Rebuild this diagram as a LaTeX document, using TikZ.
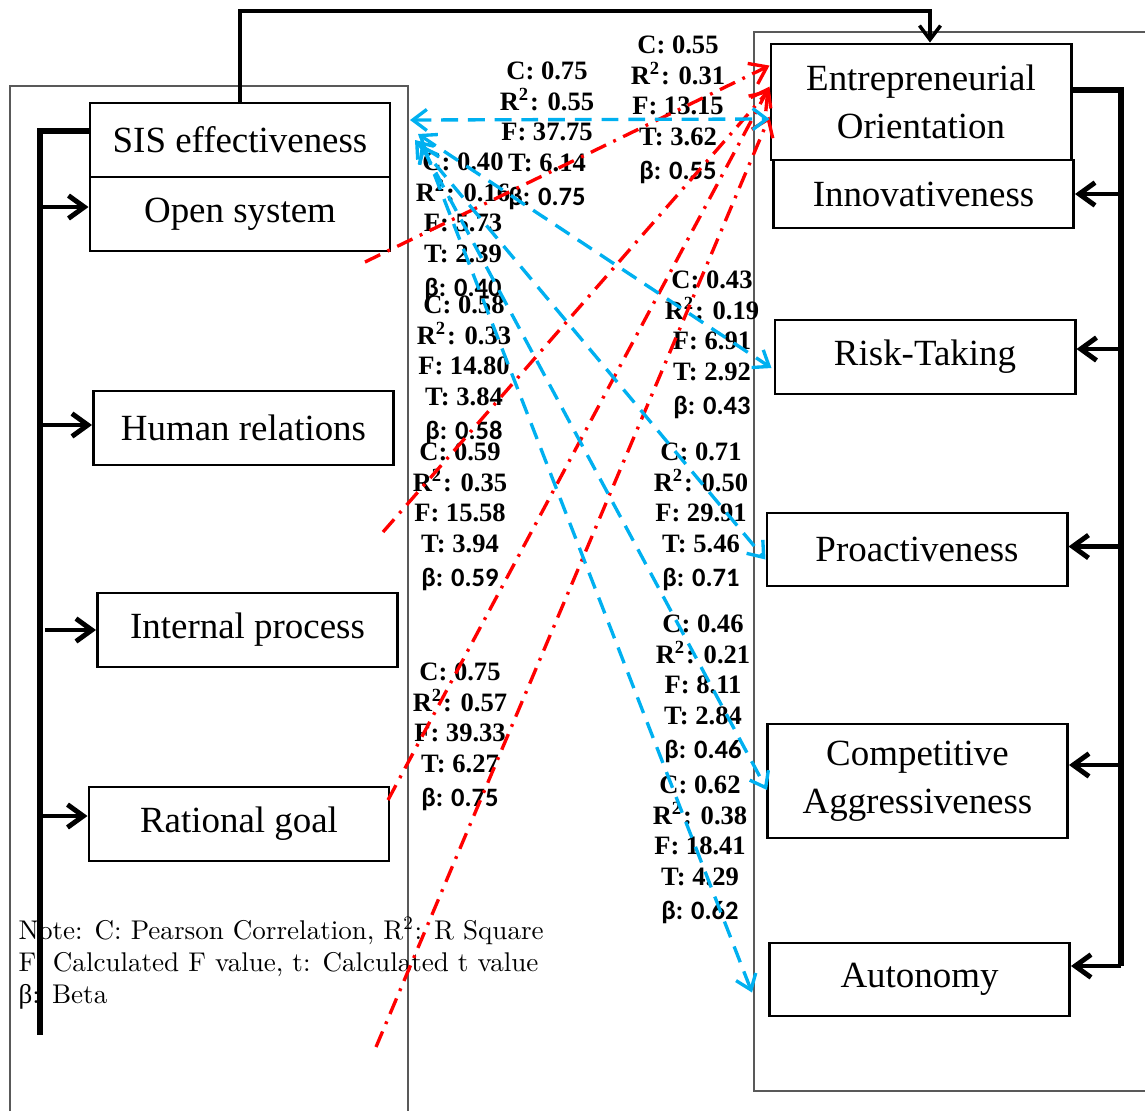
\documentclass[tikz,border=0pt]{standalone}
\usepackage{fontspec}
\newfontfamily\boxfont{Liberation Serif}
\newfontfamily\betafont{Carlito}
\newfontfamily\notefont{lmroman10-regular}[Extension=.otf]
\usetikzlibrary{calc,arrows.meta}
\definecolor{linkblue}{RGB}{0,176,240}
\definecolor{linkred}{RGB}{255,0,0}
\tikzset{
  box/.style={draw, line width=0.8pt, minimum width=3cm, minimum height=0.74cm, inner sep=0pt, align=center, font=\boxfont\fontsize{10.5}{13.6}\selectfont},
  frame/.style={draw=black!65, line width=0.45pt},
  bar/.style={line width=1.6pt},
  feed/.style={line width=1.4pt, -{Straight Barb[length=4.5pt,width=6.5pt]}},
  redlink/.style={linkred, line width=0.95pt, dash pattern=on 4.8pt off 2.3pt on 0.8pt off 2.3pt, -{Straight Barb[length=4.5pt,width=6.5pt]}},
  bluelink/.style={linkblue, line width=0.95pt, dash pattern=on 4.8pt off 2.8pt, {Straight Barb[length=4pt,width=6pt]}-{Straight Barb[length=4pt,width=6pt]}},
  stat/.style={inner sep=0pt, align=center, font=\boxfont\bfseries\fontsize{7.55}{8.68}\selectfont},
}

\begin{document}
\begin{tikzpicture}[x=0.01cm, y=-0.01cm]
\useasboundingbox (0,0) rectangle (1145,1111);

%RAHMEN
\draw[frame] (10,1111) -- (10,86) -- (408,86) -- (408,1111);
\draw[frame] (1145,32) -- (754,32) -- (754,1091) -- (1145,1091);

%WERTE (C, R2, F, T, BETA)
\node[stat] (sA) at (547,136) {C: 0.75\\R\textsuperscript{2}: 0.55\\F: 37.75\\T: 6.14\\[1pt]{\betafont β: 0.75}};
\node[stat] (sB) at (678,110) {C: 0.55\\R\textsuperscript{2}: 0.31\\F: 13.15\\T: 3.62\\[1pt]{\betafont β: 0.55}};
\node[stat] (sC) at (463,227) {C: 0.40\\R\textsuperscript{2}: 0.16\\F: 5.73\\T: 2.39\\[1pt]{\betafont β: 0.40}};
\node[stat] (sD) at (464,370) {C: 0.58\\R\textsuperscript{2}: 0.33\\F: 14.80\\T: 3.84\\[1pt]{\betafont β: 0.58}};
\node[stat] (sE) at (460,517) {C: 0.59\\R\textsuperscript{2}: 0.35\\F: 15.58\\T: 3.94\\[1pt]{\betafont β: 0.59}};
\node[stat] (sJ) at (460,737) {C: 0.75\\R\textsuperscript{2}: 0.57\\F: 39.33\\T: 6.27\\[1pt]{\betafont β: 0.75}};
\node[stat] (sF) at (712,345) {C: 0.43\\R\textsuperscript{2}: 0.19\\F: 6.91\\T: 2.92\\[1pt]{\betafont β: 0.43}};
\node[stat] (sG) at (701,517) {C: 0.71\\R\textsuperscript{2}: 0.50\\F: 29.91\\T: 5.46\\[1pt]{\betafont β: 0.71}};
\node[stat] (sH) at (703,689) {C: 0.46\\R\textsuperscript{2}: 0.21\\F: 8.11\\T: 2.84\\[1pt]{\betafont β: 0.46}};
\node[stat] (sI) at (700,850) {C: 0.62\\R\textsuperscript{2}: 0.38\\F: 18.41\\T: 4.29\\[1pt]{\betafont β: 0.62}};

%ANMERKUNG
\node[anchor=north west, align=left, inner sep=0pt, font=\notefont\fontsize{7.7}{9.1}\selectfont] (note) at (18,916)
  {Note: C: Pearson Correlation, R\textsuperscript{2}: R Square\\F: Calculated F value, t: Calculated t value\\{\boxfont β}: Beta};

%LINKE SPALTE
\node[box] (sis) at (240,140) {SIS effectiveness};
\node[box] (open) at (240,214) {Open system};
\node[box] (human) at (243.5,428) {Human relations};
\node[box] (internal) at (247.5,630) {Internal process};
\node[box] (rational) at (239,824) {Rational goal};

%RECHTE SPALTE
\node[box, minimum height=1.16cm] (eo) at (921,102) {Entrepreneurial\\Orientation};
\node[box, minimum height=0.68cm] (innov) at (923.5,194) {Innovativeness};
\node[box] (risk) at (925,357) {Risk-Taking};
\node[box, minimum height=0.73cm] (proact) at (917,549.5) {Proactiveness};
\node[box, minimum height=1.14cm] (comp) at (917.5,781) {Competitive\\Aggressiveness};
\node[box, minimum height=0.73cm] (auton) at (919.5,979.5) {Autonomy};

%VERBINDUNG OBEN
\coordinate (top) at (930,11);
\draw[line width=1pt, -{Straight Barb[length=4pt,width=6pt]}] (sis.north) |- (top) -- (eo.north -| top);

%BALKEN LINKS
\coordinate (lbar) at (40,131);
\coordinate (lbarend) at (40,1035);
\draw[bar] (sis.west |- lbar) -- (lbar) -- (lbarend);
\draw[feed] ($(lbar |- open.west)+(0,-7)$) -- ($(open.west)+(0,-7)$);
\draw[feed] ($(lbar |- human.west)+(0,-3)$) -- ($(human.west)+(0,-3)$);
\draw[feed] ($(lbar |- internal.west)+(5,0)$) -- (internal.west);
\draw[feed] ($(lbar |- rational.west)+(0,-8)$) -- ($(rational.west)+(0,-8)$);

%BALKEN RECHTS
\coordinate (rbar) at (1121,90);
\coordinate (rbarend) at (1121,966);
\draw[bar] ($(eo.east)+(0,-12)$) -- (rbar) -- (rbarend);
\draw[feed] (rbar |- innov.east) -- (innov.east);
\draw[feed] ($(rbar |- risk.east)+(0,-8)$) -- ($(risk.east)+(0,-8)$);
\draw[feed] ($(rbar |- proact.east)+(0,-3)$) -- ($(proact.east)+(0,-3)$);
\draw[feed] ($(rbar |- comp.east)+(0,-16)$) -- ($(comp.east)+(0,-16)$);
\draw[feed] (rbarend) -- (auton.east |- rbarend);

%ROTE PFEILE
\coordinate (r1) at (365,262);
\coordinate (r2) at (383,532);
\coordinate (r3) at (388,800);
\coordinate (r4) at (376,1047);
\draw[redlink] (r1) -- ($(eo.north west)+(0,23)$);
\draw[redlink] (r2) -- ($(eo.north west)+(0,47)$);
\draw[redlink] (r3) -- ($(eo.north west)+(0,44)$);
\draw[redlink] (r4) -- ($(eo.north west)+(0,74)$);

%BLAUE PFEILE
\coordinate (b0) at (410,120);
\coordinate (b1) at (418,134);
\coordinate (b2) at (415,140);
\coordinate (b3) at (421,145);
\coordinate (b4) at (423,145);
\draw[bluelink] (b0) -- ($(eo.west)+(0,17)$);
\draw[bluelink] (b1) -- ($(risk.west)+(-2,11)$);
\draw[bluelink] (b2) -- ($(proact.west)+(0,10)$);
\draw[bluelink] (b3) -- ($(comp.west)+(1,9)$);
\draw[bluelink] (b4) -- ($(auton.west)+(-16,13)$);

\end{tikzpicture}
\end{document}
